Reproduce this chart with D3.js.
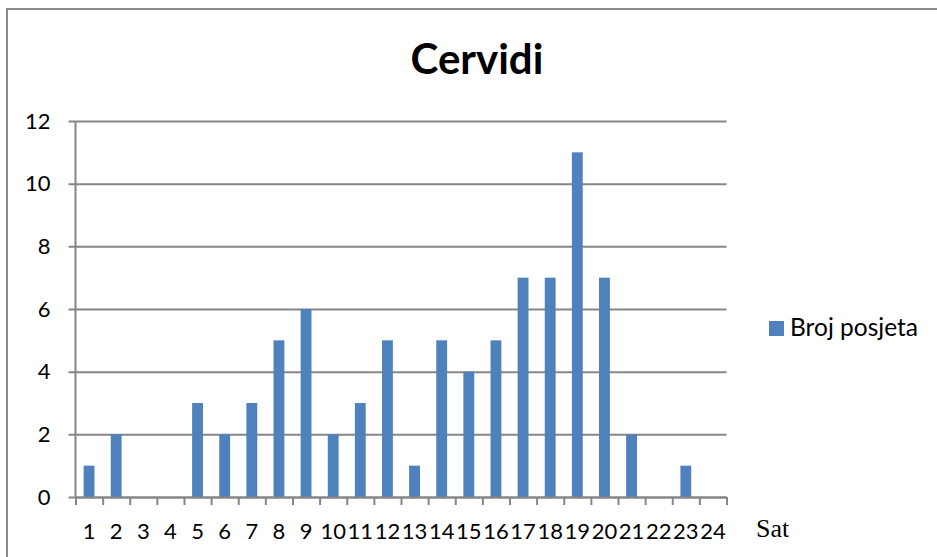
<!DOCTYPE html>
<html>
<head>
<meta charset="utf-8">
<script src="https://cdn.jsdelivr.net/npm/d3@7"></script>
<style>
  body { margin: 0; background: #fff; }
  text { font-family: Lato, "Open Sans", sans-serif; fill: #000; }
</style>
</head>
<body>
<div class="chart"></div>
<script>
var hours = ["1","2","3","4","5","6","7","8","9","10","11","12","13","14","15","16","17","18","19","20","21","22","23","24"];
var visits = [1, 2, 0, 0, 3, 2, 3, 5, 6, 2, 3, 5, 1, 5, 4, 5, 7, 7, 11, 7, 2, 0, 1, 0];
var yTicks = [0, 2, 4, 6, 8, 10, 12];
var seriesName = "Broj posjeta";

var svgWidth = 937;
var svgHeight = 557;

var plot = { left: 75.5, right: 726.5, top: 121, bottom: 497 };

var svg = d3.select(".chart")
  .append("svg")
  .attr("width", svgWidth)
  .attr("height", svgHeight);

// outer frame (cut off on right and bottom)
svg.append("rect")
  .attr("x", 7).attr("y", 9)
  .attr("width", 1000).attr("height", 1000)
  .attr("fill", "none")
  .attr("stroke", "#8a8a8a")
  .attr("stroke-width", 2);

var x = d3.scaleBand()
  .domain(hours)
  .range([plot.left, plot.right])
  .paddingInner(0.6)
  .paddingOuter(0.3);

var xEdge = d3.scaleLinear()
  .domain([0, hours.length])
  .range([plot.left, plot.right]);

var y = d3.scaleLinear()
  .domain([0, 12])
  .range([plot.bottom, plot.top]);

// gridlines + y labels
var leftAxis = d3.axisLeft(y)
  .tickValues(yTicks)
  .tickSize(-(plot.right - plot.left))
  .tickSizeOuter(0)
  .tickPadding(25);

var gy = svg.append("g")
  .attr("transform", `translate(${plot.left}, 0)`)
  .call(leftAxis);
gy.select(".domain").remove();
gy.selectAll(".tick line")
  .attr("x1", -7)
  .attr("stroke", "#868686")
  .attr("stroke-width", 2);
gy.selectAll(".tick text")
  .style("font-size", "22px")
  .style("font-family", "Lato, sans-serif")
  .attr("fill", "#000");

// bars
svg.selectAll(".bar")
  .data(visits)
  .enter()
  .append("rect")
  .attr("class", "bar")
  .attr("x", (d, i) => x(hours[i]))
  .attr("y", d => y(d))
  .attr("width", x.bandwidth())
  .attr("height", d => y(0) - y(d))
  .attr("fill", "#4F81BD");

// y axis line
svg.append("line")
  .attr("x1", plot.left).attr("x2", plot.left)
  .attr("y1", plot.top).attr("y2", plot.bottom)
  .attr("stroke", "#868686")
  .attr("stroke-width", 2);

// x axis: ticks on category edges, labels at centres
var edgeAxis = d3.axisBottom(xEdge)
  .tickValues(d3.range(hours.length + 1))
  .tickSize(8)
  .tickSizeOuter(0)
  .tickFormat("");

var gx = svg.append("g")
  .attr("transform", `translate(0, ${plot.bottom})`)
  .call(edgeAxis);
gx.select(".domain").attr("stroke", "#868686").attr("stroke-width", 2);
gx.selectAll(".tick line").attr("stroke", "#868686").attr("stroke-width", 2);

svg.selectAll(".xlabel")
  .data(hours)
  .enter()
  .append("text")
  .attr("class", "xlabel")
  .attr("x", d => x(d) + x.bandwidth() / 2)
  .attr("y", 539)
  .attr("text-anchor", "middle")
  .style("font-size", "22px")
  .text(d => d);

// axis title
svg.append("text")
  .attr("x", 756)
  .attr("y", 537)
  .style("font-family", "Liberation Serif, serif")
  .style("font-size", "26px")
  .text("Sat");

// chart title
svg.append("text")
  .attr("x", 477)
  .attr("y", 74)
  .attr("text-anchor", "middle")
  .style("font-size", "42px")
  .style("font-weight", "bold")
  .text("Cervidi");

// legend
svg.append("rect")
  .attr("x", 769).attr("y", 321)
  .attr("width", 15).attr("height", 15)
  .attr("fill", "#4F81BD");

svg.append("text")
  .attr("x", 790)
  .attr("y", 336)
  .style("font-size", "24.5px")
  .text(seriesName);
</script>
</body>
</html>
